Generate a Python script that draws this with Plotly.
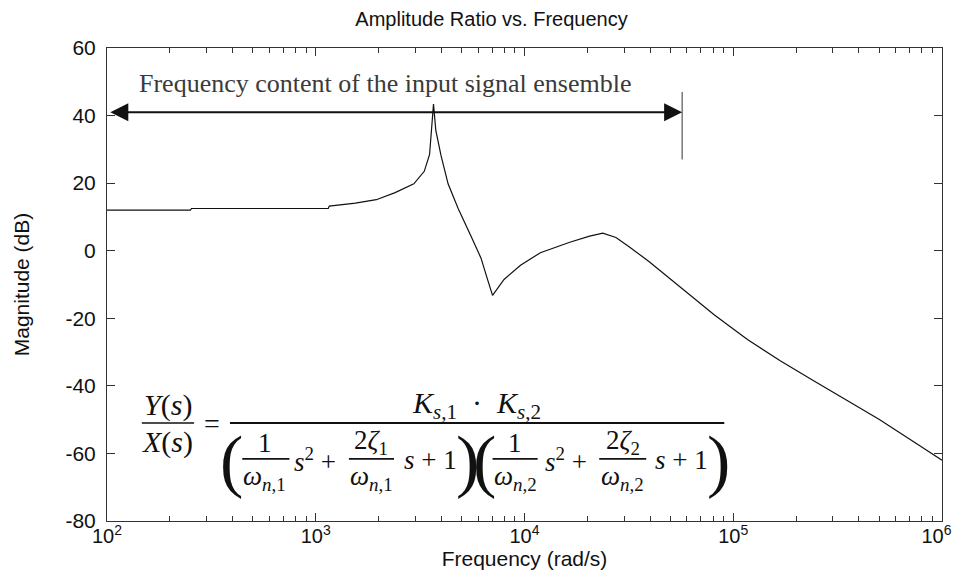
import numpy as np
import plotly.graph_objects as go

# Magnitude curve (frequency in rad/s, magnitude in dB)
freq = [100, 251, 254, 1148, 1161, 1549, 1950, 2400, 2950, 3310, 3510, 3590,
        3665, 3760, 3980, 4305, 4810, 5560, 6190, 6650, 7030, 7980, 9570,
        11910, 13270, 16480, 20510, 23710, 27420, 31700, 39450, 56620, 81280,
        116950, 167880, 241550, 346740, 498880, 716140, 1000000]
mag_db = [12.0, 12.0, 12.5, 12.5, 13.2, 14.1, 15.1, 17.2, 19.8, 23.5, 28.5, 35.6,
          43.4, 35.6, 28.2, 19.8, 12.5, 4.1, -2.2, -8.5, -13.2, -8.5, -4.3,
          -0.6, 0.45, 2.5, 4.3, 5.2, 3.9, 1.2, -3.2, -11.1, -19.0,
          -26.3, -32.6, -38.4, -44.1, -49.9, -56.2, -62.0]

x_ticks = [1e2, 1e3, 1e4, 1e5, 1e6]
# last label padded so it sits left of the frame edge, as in the original
x_tick_labels = ['10<sup>2</sup>', '10<sup>3</sup>', '10<sup>4</sup>', '10<sup>5</sup>',
                 '10<sup>6</sup>&nbsp;&nbsp;']
y_ticks = [-80, -60, -40, -20, 0, 20, 40, 60]
y_tick_labels = ['-80', '-60', '-40', '-20', '0', '20', '40', '60']

# Input-signal band arrow and its end marker
band_freq = [102, 56900]
band_db = 41
band_end_db = [27, 47]
band_label = "Frequency content of the input signal ensemble"

W, H = 967, 577
L, R, T, B = 99, 22, 40, 64
X_RANGE = [2, 6]
Y_RANGE = [-80, 60]


def paper(lf, db):
    # log10(frequency), dB -> paper coordinates
    return ((lf - X_RANGE[0]) / (X_RANGE[1] - X_RANGE[0]),
            (db - Y_RANGE[0]) / (Y_RANGE[1] - Y_RANGE[0]))


fig = go.Figure()

fig.add_trace(go.Scatter(x=freq, y=mag_db, mode='lines',
                         line=dict(color='#111111', width=1.2), showlegend=False))

# vertical tick at the right end of the band arrow (drawn on the top copy of the x axis,
# which has the same log range, so that axis gets rendered too)
fig.add_trace(go.Scatter(x=[band_freq[1], band_freq[1]], y=band_end_db, mode='lines',
                         xaxis='x2', line=dict(color='#333333', width=1), showlegend=False))

# double headed arrow
fig.add_annotation(x=np.log10(band_freq[1]), y=band_db, ax=np.log10(band_freq[0]), ay=band_db,
                   xref='x', yref='y', axref='x', ayref='y', text='', showarrow=True,
                   arrowhead=2, startarrowhead=2, arrowside='end+start',
                   arrowwidth=2, arrowsize=1.8, startarrowsize=1.8, arrowcolor='#111111')

fig.add_annotation(x=3.33, y=49.5, xref='x', yref='y', text=band_label,
                   xanchor='center', yanchor='middle', showarrow=False,
                   font=dict(family='Liberation Serif', size=26, color='#3a3a3a'))

# transfer function, built from pieces (log10 f, dB)
eq_font = 'Liberation Serif'
pieces = [
    ('<i>Y</i>(<i>s</i>)', 2.291, -45.6, 30),
    ('<i>X</i>(<i>s</i>)', 2.291, -56.6, 30),
    ('=', 2.501, -51.0, 28),
    ('<i>K</i><sub><i>s</i>,1</sub> &nbsp;·&nbsp; <i>K</i><sub><i>s</i>,2</sub>', 3.768, -45.6, 30),
    ('(', 2.598, -62.0, 70),
    ('1', 2.756, -56.8, 27),
    ('<i>ω</i><sub><i>n</i>,1</sub>', 2.756, -67.2, 27),
    ('<i>s</i><sup>2</sup> +', 2.996, -62.0, 27),
    ('2<i>ζ</i><sub>1</sub>', 3.267, -56.6, 27),
    ('<i>ω</i><sub><i>n</i>,1</sub>', 3.267, -67.2, 27),
    ('<i>s</i> + 1', 3.552, -62.0, 27),
    (')', 3.729, -62.0, 70),
    ('(', 3.807, -62.0, 70),
    ('1', 3.955, -56.8, 27),
    ('<i>ω</i><sub><i>n</i>,2</sub>', 3.955, -67.2, 27),
    ('<i>s</i><sup>2</sup> +', 4.200, -62.0, 27),
    ('2<i>ζ</i><sub>2</sub>', 4.471, -56.6, 27),
    ('<i>ω</i><sub><i>n</i>,2</sub>', 4.471, -67.2, 27),
    ('<i>s</i> + 1', 4.750, -62.0, 27),
    (')', 4.927, -62.0, 70),
]
for txt, lf, db, size in pieces:
    xp, yp = paper(lf, db)
    fig.add_annotation(x=xp, y=yp, xref='paper', yref='paper', text=txt,
                       xanchor='center', yanchor='middle', showarrow=False,
                       font=dict(family=eq_font, size=size, color='#111111'))

bars = [(2.167, 2.417, -51.0, 1.6), (2.589, 4.957, -51.0, 2),
        (2.648, 2.874, -61.6, 1.6), (3.159, 3.375, -61.6, 1.6),
        (3.847, 4.063, -61.6, 1.6), (4.358, 4.583, -61.6, 1.6)]
for lf0, lf1, db, w in bars:
    x0, y0 = paper(lf0, db)
    x1, _ = paper(lf1, db)
    fig.add_shape(type='line', xref='paper', yref='paper', x0=x0, x1=x1,
                  y0=y0, y1=y0, line=dict(color='#111111', width=w))

tick_font = dict(family='Liberation Sans', size=21, color='#111111')
title_font = dict(family='Liberation Sans', size=21, color='#111111')
frame = '#333333'
minor_ticks = dict(ticks='inside', ticklen=5, tickcolor=frame, dtick='D1', showgrid=False)

fig.update_layout(
    width=W, height=H,
    margin=dict(l=L, r=R, t=T, b=B),
    plot_bgcolor='white', paper_bgcolor='white',
    title=dict(text='Amplitude Ratio vs. Frequency', x=0.5, xref='container', xanchor='center',
               y=1 - 11 / H, yanchor='middle',
               font=dict(family='Liberation Sans', size=20, color='#111111')),
    xaxis=dict(type='log', range=X_RANGE, tickvals=x_ticks, ticktext=x_tick_labels,
               showgrid=False, zeroline=False, showline=True, linecolor=frame,
               linewidth=1, mirror=True, ticks='inside', ticklen=8, tickcolor=frame,
               minor=minor_ticks,
               tickfont=dict(family='Liberation Sans', size=20, color='#111111'),
               ticklabelstandoff=-3,
               title=dict(text='Frequency (rad/s)', font=title_font, standoff=0)),
    # top copy of the log axis, for the mirrored major and minor ticks
    xaxis2=dict(type='log', range=X_RANGE, tickvals=x_ticks, overlaying='x', side='top',
                showgrid=False, zeroline=False, showline=False, showticklabels=False,
                ticks='inside', ticklen=8, tickcolor=frame, minor=minor_ticks),
    yaxis=dict(range=Y_RANGE, tickvals=y_ticks, ticktext=y_tick_labels,
               showgrid=False, zeroline=False,
               showline=True, linecolor=frame, linewidth=1, mirror='ticks',
               ticks='inside', ticklen=8, tickcolor=frame, ticklabelstandoff=6,
               tickfont=tick_font,
               title=dict(text='Magnitude (dB)', font=title_font, standoff=30)),
)

fig.write_html("out.html")
